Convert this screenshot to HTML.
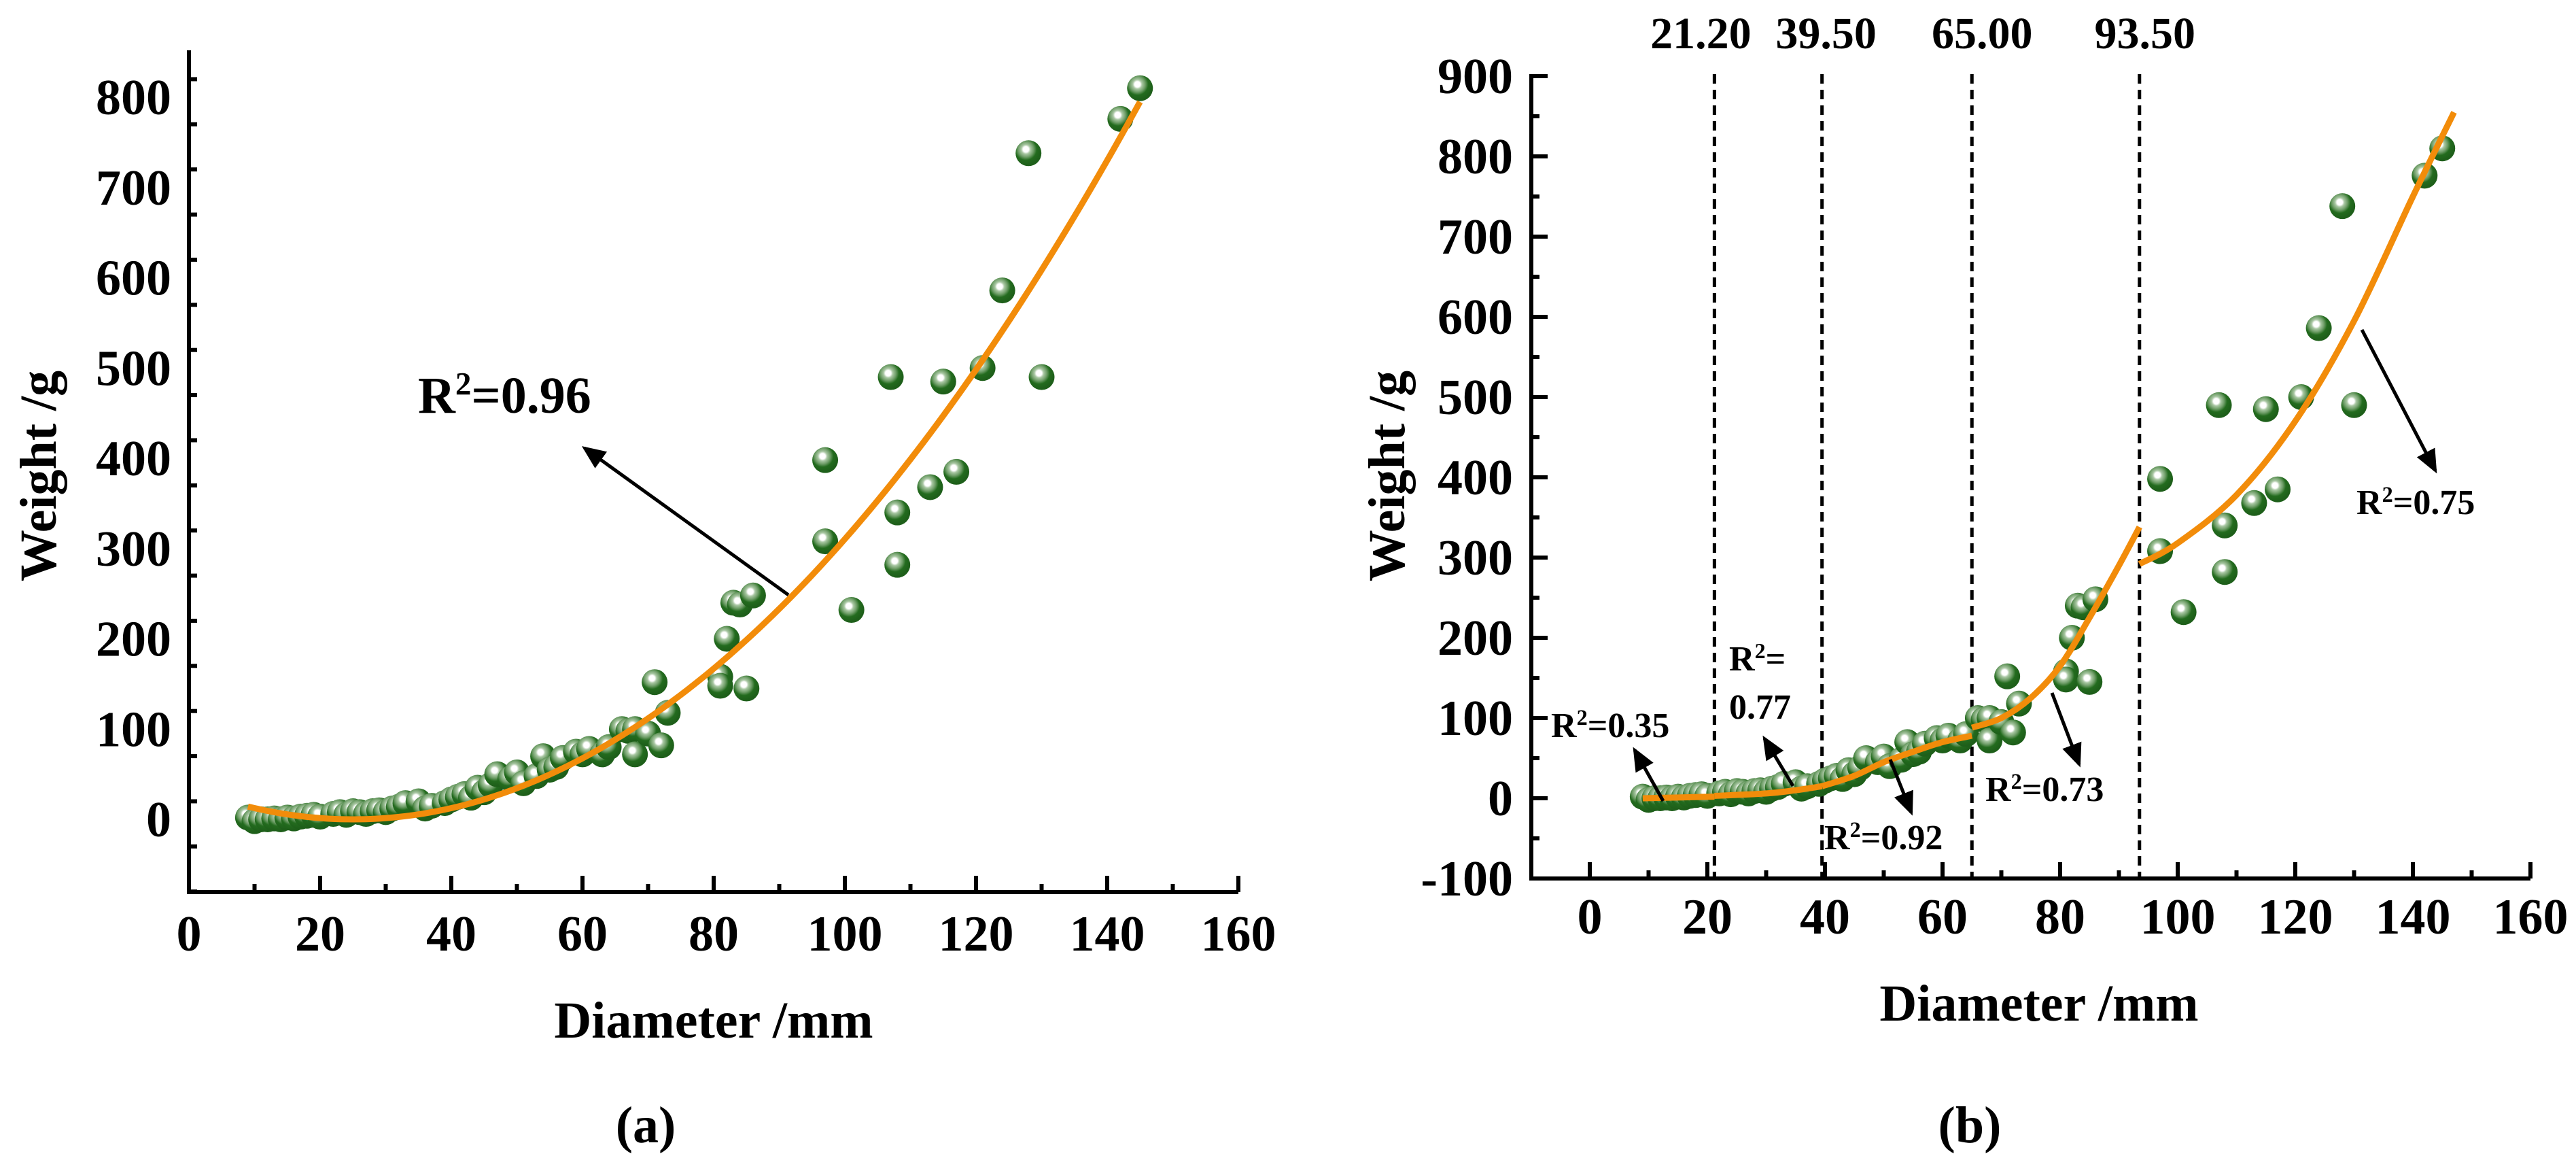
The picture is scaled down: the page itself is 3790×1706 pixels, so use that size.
<!DOCTYPE html>
<html><head><meta charset="utf-8"><style>
html,body{margin:0;padding:0;background:#fff}
svg{display:block;font-family:"Liberation Serif",serif;font-weight:bold}
</style></head><body>
<svg id="c" width="3790" height="1706" viewBox="0 0 3790 1706" xmlns="http://www.w3.org/2000/svg">
<defs>
<radialGradient id="ball" cx="0.4" cy="0.35" r="0.6">
<stop offset="0" stop-color="#ffffff"/><stop offset="0.18" stop-color="#ffffff"/>
<stop offset="0.3" stop-color="#a9c7a3"/><stop offset="0.5" stop-color="#6f9e68"/>
<stop offset="0.7" stop-color="#236b1e"/><stop offset="1" stop-color="#1e5f1a"/></radialGradient>
<marker id="ah" markerWidth="8" markerHeight="8" refX="6" refY="4" orient="auto" markerUnits="strokeWidth"><path d="M0,1 L7,4 L0,7 Z" fill="#000"/></marker>
</defs>
<g id="pa"></g>
<g id="pb"></g>
</svg>
<script>
const diam=[9,10,11,12,13,14,15,16,17,18,19,20,22,23,24,25,26,27,28,29,30,31,32,33,35,36,37,39,40,41,42,43,44,45,46,47,49,50,51,53,54,55,56,57,59,60,61,63,64,66,67,68,68,70,71,72,73,81,81,82,83,84,85,86,97,97,101,107,108,108,113,115,117,121,124,128,130,142,145];
const weight=[2,-2,0,0,1,0,2,1,3,4,5,3,6,8,5,9,8,6,9,10,8,12,14,18,20,12,15,18,22,25,28,24,35,30,38,50,45,52,40,48,70,55,58,68,75,72,78,72,80,100,98,100,72,95,152,82,118,158,148,200,240,238,145,248,398,308,232,490,340,282,368,485,385,500,586,738,490,776,810];
const fitA=[0.0552,25,9,145]; // y=a*(x-h)^2 over [x0,x1]
const seg1X=[9,15,21.2], seg1Y=[0,1,2];
const seg2X=[21.2,30,35,39.5], seg2Y=[3,6,10,15];
const seg3X=[39.5,45,50,55,60,65], seg3Y=[15,28,45,58,70,78];
const seg4X=[65,70,75,80,85,90,93.5], seg4Y=[88,100,125,165,225,290,338];
const seg5X=[93.5,100,110,120,130,140,147], seg5Y=[292,318,378,470,595,750,855];
const breaks=[21.2,39.5,65.0,93.5];
const breakLabels=["21.20","39.50","65.00","93.50"];
const breakLabelShift=[-20,6,15,8];
const xTicks=[0,20,40,60,80,100,120,140,160];
const yTicksA=[0,100,200,300,400,500,600,700,800];
const yTicksB=[-100,0,100,200,300,400,500,600,700,800,900];

const NS="http://www.w3.org/2000/svg";
function mk(p,t,a,txt){const e=document.createElementNS(NS,t);for(const k in a)e.setAttribute(k,a[k]);if(txt!=null)e.textContent=txt;p.appendChild(e);return e;}

function axes(g,o){
 const X=v=>o.x0+(v-o.xo)*o.kx, Y=v=>o.y0-(v-o.yo)*o.ky;
 let l=mk(g,'path',{d:`M${o.L},${o.T} V${o.B} H${o.R}`,stroke:'#000','stroke-width':6,fill:'none'});
 
 for(let v=0;v<=160;v+=10){const x=X(v);const len=v%20===0?24:12;mk(g,'line',{x1:x,y1:o.B,x2:x,y2:o.B-len,stroke:'#000','stroke-width':6});}
 xTicks.forEach(v=>{const t=mk(g,'text',{x:X(v),y:o.xlb,'font-size':74,'text-anchor':'middle'},v);
  });
 for(let v=o.ymin;v<=o.ymax;v+=50){const y=Y(v);if(y<o.T||y>o.B)continue;const len=v%100===0?24:12;mk(g,'line',{x1:o.L,y1:y,x2:o.L+len,y2:y,stroke:'#000','stroke-width':6});}
 o.yt.forEach(v=>{const t=mk(g,'text',{x:o.ylr,y:Y(v)+25,'font-size':74,'text-anchor':'end'},v);
  });
 let t=mk(g,'text',{x:o.ytx,y:700,'font-size':76,'text-anchor':'middle',transform:`rotate(-90 ${o.ytx} 700)`},'Weight /g');
 
 t=mk(g,'text',{x:o.xtx,y:o.xty,'font-size':76,'text-anchor':'middle'},'Diameter /mm');
 
 t=mk(g,'text',{x:o.capx,y:1680,'font-size':76,'text-anchor':'middle'},o.cap);
 
 return [X,Y];
}
function points(g,X,Y){
 diam.forEach((d,i)=>{const c=mk(g,'circle',{cx:X(d),cy:Y(weight[i]),r:19,fill:'url(#ball)'});
  });
}
function smooth(xs,ys,X,Y){let d=`M${X(xs[0])},${Y(ys[0])}`;
 for(let i=0;i<xs.length-1;i++){const p0=i>0?i-1:i,p3=i+2<xs.length?i+2:i+1;
  const x0=X(xs[p0]),y0=Y(ys[p0]),x1=X(xs[i]),y1=Y(ys[i]),x2=X(xs[i+1]),y2=Y(ys[i+1]),x3=X(xs[p3]),y3=Y(ys[p3]);
  d+=` C${x1+(x2-x0)/6},${y1+(y2-y0)/6} ${x2-(x3-x1)/6},${y2-(y3-y1)/6} ${x2},${y2}`;}
 return d;}
function arrow(g,x1,y1,x2,y2){const a=mk(g,'line',{x1,y1,x2,y2,stroke:'#000','stroke-width':5,'marker-end':'url(#ah)'});
 }
function r2(g,x,y,val,fs,name){const t=mk(g,'text',{x,y,'font-size':fs});
 mk(t,'tspan',{},'R');mk(t,'tspan',{dy:-fs*0.35,'font-size':fs*0.62},'2');mk(t,'tspan',{dy:fs*0.35},'='+val);
 }

// Panel a
const ga=document.getElementById('pa');
const [XA,YA]=axes(ga,{x0:278,xo:0,kx:9.65,y0:1205,yo:0,ky:1.3275,L:278,T:74,B:1312,R:1822,ymin:-80,ymax:850,yt:yTicksA,xlb:1398,ylr:252,ytx:82,xtx:1050,xty:1526,capx:950,cap:'(a)'});
points(ga,XA,YA);
{let d='';for(let x=fitA[2];x<=fitA[3]+0.01;x+=1){const y=fitA[0]*(x-fitA[1])**2;d+=(d?'L':'M')+XA(x)+','+YA(y);}
 const p=mk(ga,'path',{d,stroke:'#f28c0a','stroke-width':9,fill:'none'});
 }
arrow(ga,1160,875,860,659);
r2(ga,615,607,'0.96',76,'r2-label-096');

// Panel b
const gb=document.getElementById('pb');
const [XB,YB]=axes(gb,{x0:2339,xo:0,kx:8.65,y0:1174,yo:0,ky:1.18,L:2253,T:109,B:1292,R:3723,ymin:-100,ymax:900,yt:yTicksB,xlb:1373,ylr:2226,ytx:2066,xtx:3000,xty:1501,capx:2898,cap:'(b)'});
breaks.forEach((b,i)=>{const l=mk(gb,'line',{x1:XB(b),y1:109,x2:XB(b),y2:1292,stroke:'#000','stroke-width':5,'stroke-dasharray':'14 9'});
 
 const t=mk(gb,'text',{x:XB(b)+breakLabelShift[i],y:71,'font-size':66,'text-anchor':'middle'},breakLabels[i]);
 });
points(gb,XB,YB);
[[seg1X,seg1Y],[seg2X,seg2Y],[seg3X,seg3Y],[seg4X,seg4Y],[seg5X,seg5Y]].forEach(s=>{
 const p=mk(gb,'path',{d:smooth(s[0],s[1],XB,YB),stroke:'#f28c0a','stroke-width':9,fill:'none'});
 });
arrow(gb,2447,1178,2405,1103);
arrow(gb,2638,1156,2596,1086);
arrow(gb,2781,1117,2812,1195);
arrow(gb,3019,1019,3059,1124);
arrow(gb,3475,485,3583,692);
r2(gb,2282,1084,'0.35',52,'r2-label-035');
{const t=mk(gb,'text',{x:2544,y:986,'font-size':52});mk(t,'tspan',{},'R');mk(t,'tspan',{dy:-18,'font-size':32},'2');mk(t,'tspan',{dy:18},'=');
 
 const t2=mk(gb,'text',{x:2544,y:1057,'font-size':52},'0.77');}
r2(gb,2684,1249,'0.92',52,'r2-label-092');
r2(gb,2921,1178,'0.73',52,'r2-label-073');
r2(gb,3467,756,'0.75',52,'r2-label-075');
</script>
</body></html>
